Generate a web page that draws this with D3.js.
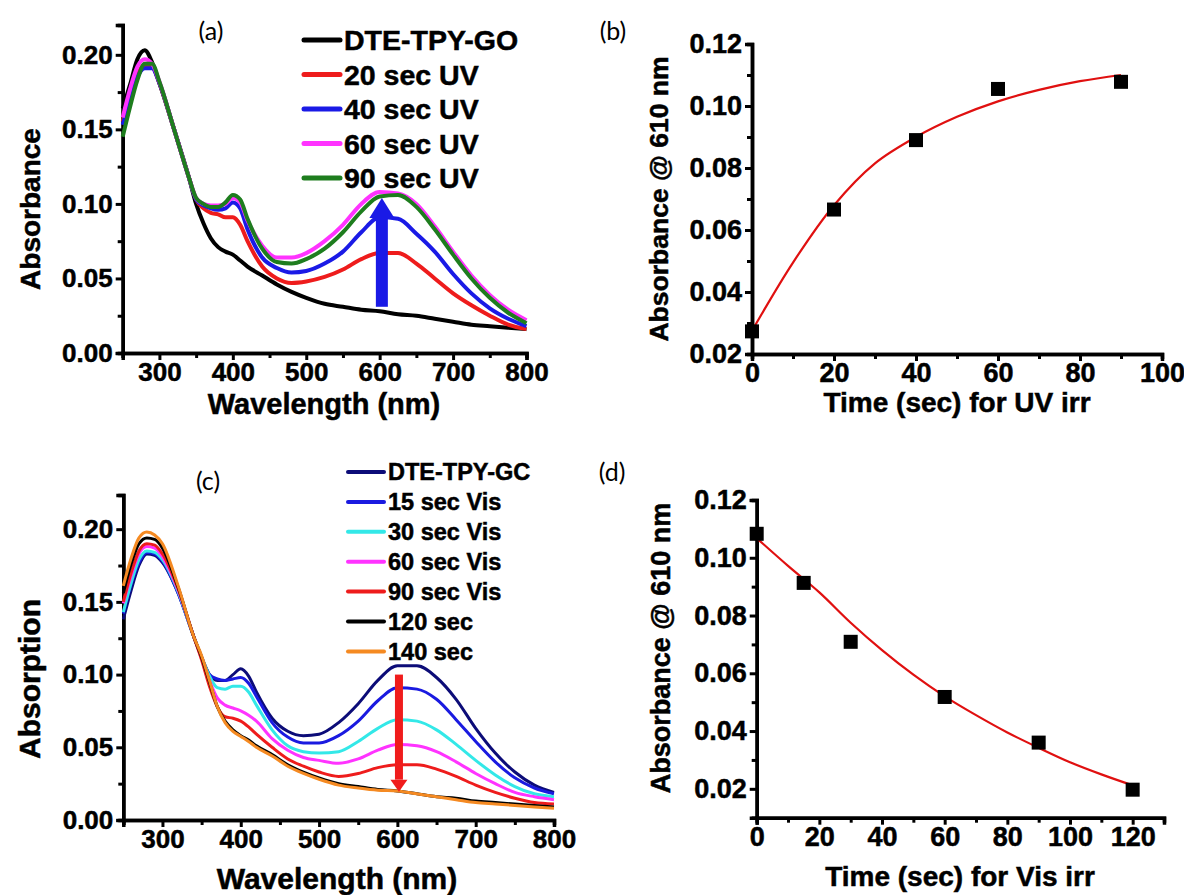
<!DOCTYPE html>
<html><head><meta charset="utf-8">
<script src="https://cdn.jsdelivr.net/npm/d3@7"></script>
<style>
html,body{margin:0;padding:0;background:#fff;}
svg{display:block;}
text{font-family:"Liberation Sans",Arial,sans-serif;font-weight:bold;fill:#000;}
.plab{font-family:Lato,"Open Sans",sans-serif;font-weight:normal;}
</style></head>
<body>
<svg id="fig" width="1184" height="895"></svg>
<script>
// ---------- Panel (a): UV irradiation spectra ----------
const wlA = [250,260,270,280,290,300,320,340,350,360,370,380,390,400,410,420,440,460,480,500,525,550,575,600,625,650,675,700,725,750,775,800];
const aBlack   = [.164,.180,.197,.203,.195,.181,.150,.118,.100,.087,.077,.071,.068,.066,.062,.058,.052,.046,.041,.037,.033,.031,.029,.028,.026,.025,.023,.021,.019,.018,.017,.016];
const aRed     = [.155,.172,.187,.193,.192,.181,.150,.118,.103,.097,.094,.093,.091,.091,.086,.075,.058,.050,.047,.048,.051,.056,.063,.067,.067,.060,.050,.040,.032,.025,.019,.016];
const aBlue    = [.153,.170,.185,.191,.191,.181,.150,.118,.103,.099,.097,.096,.097,.101,.097,.083,.064,.057,.054,.055,.060,.068,.081,.091,.090,.080,.068,.053,.040,.030,.023,.018];
const aMagenta = [.158,.177,.192,.197,.194,.182,.150,.118,.104,.100,.099,.099,.100,.104,.101,.089,.072,.064,.064,.067,.075,.086,.100,.108,.107,.100,.085,.068,.052,.039,.029,.022];
const aGreen   = [.145,.165,.183,.194,.194,.182,.150,.118,.104,.100,.098,.098,.101,.106,.103,.090,.070,.061,.060,.063,.070,.081,.095,.105,.106,.098,.083,.066,.050,.037,.027,.020];
const aLabels  = ["DTE-TPY-GO","20 sec UV","40 sec UV","60 sec UV","90 sec UV"];
const aColors  = ["#000000","#ee1c1c","#1a1ae6","#ff33ff","#1e7d1e"];

// ---------- Panel (c): visible irradiation spectra ----------
const wlC = [250,260,270,280,290,300,320,340,350,360,370,380,390,400,410,420,440,460,480,500,525,550,575,600,625,650,675,700,725,750,775,800];
const cNavy    = [.138,.158,.175,.183,.182,.177,.156,.126,.112,.100,.096,.096,.100,.104,.099,.088,.070,.061,.058,.059,.067,.080,.096,.106,.106,.098,.083,.063,.046,.033,.024,.019];
const cBlue    = [.142,.162,.177,.184,.183,.178,.156,.126,.112,.100,.097,.096,.097,.098,.094,.085,.067,.057,.053,.053,.058,.068,.082,.091,.090,.083,.069,.054,.040,.029,.022,.018];
const cCyan    = [.143,.163,.179,.185,.184,.179,.157,.126,.112,.099,.091,.090,.092,.092,.088,.079,.062,.051,.047,.046,.047,.054,.063,.069,.068,.062,.052,.041,.031,.023,.018,.016];
const cMagenta = [.149,.168,.183,.188,.187,.181,.158,.126,.111,.096,.084,.079,.077,.075,.072,.068,.056,.048,.043,.041,.039,.042,.048,.052,.051,.047,.040,.032,.025,.019,.016,.014];
const cRed     = [.150,.170,.185,.190,.189,.183,.159,.126,.110,.092,.078,.071,.070,.068,.064,.059,.050,.042,.037,.033,.030,.032,.036,.038,.038,.035,.030,.024,.019,.015,.012,.011];
const cBlack   = [.156,.176,.190,.194,.193,.187,.160,.126,.112,.095,.078,.068,.062,.058,.055,.051,.045,.038,.033,.029,.025,.023,.021,.020,.018,.016,.015,.013,.012,.011,.010,.009];
const cOrange  = [.161,.180,.194,.198,.196,.190,.161,.126,.113,.096,.078,.067,.061,.0575,.054,.050,.044,.037,.032,.028,.024,.022,.0205,.020,.018,.016,.014,.012,.011,.010,.009,.008];
const cLabels  = ["DTE-TPY-GC","15 sec Vis","30 sec Vis","60 sec Vis","90 sec Vis","120 sec","140 sec"];
const cColors  = ["#0c0c78","#1a1ae0","#33e8e8","#ff33ff","#ee1c1c","#000000","#f58a22"];

const wlTicks = [300,400,500,600,700,800];
const absTicks = [0.00,0.05,0.10,0.15,0.20];

// ---------- Panel (b): UV kinetics ----------
const bTime = [0,20,40,60,90];
const bAbs  = [0.0273,0.0666,0.089,0.1055,0.1078];
const bFitT = [0,10,20,30,40,50,60,70,80,90];
const bFitY = [0.0275,0.0495,0.0680,0.0815,0.0900,0.0965,0.1015,0.1052,0.1080,0.1100];
const bXTicks = [0,20,40,60,80,100];
const bYTicks = [0.02,0.04,0.06,0.08,0.10,0.12];

// ---------- Panel (d): Vis kinetics ----------
const dTime = [0,15,30,60,90,120];
const dAbs  = [0.1083,0.0913,0.0709,0.0518,0.036,0.0197];
const dFitT = [0,10,20,30,40,50,60,70,80,90,100,110,120];
const dFitY = [0.1068,0.0972,0.0880,0.0775,0.0680,0.0595,0.0520,0.0455,0.0395,0.0342,0.0292,0.0250,0.0212];
const dXTicks = [0,20,40,60,80,100,120];
const dYTicks = [0.02,0.04,0.06,0.08,0.10,0.12];

const svg = d3.select("#fig");

function drawAxes(g, x, y, xTicks, yTicks, xMinor, yMinor, fs, xPad) {
  const y0 = y.range()[0], x0 = x.range()[0];
  const gx = g.append("g").attr("transform", `translate(0,${y0})`)
    .call(d3.axisBottom(x).tickValues(xMinor).tickSize(5).tickFormat(""));
  const gxM = g.append("g").attr("transform", `translate(0,${y0})`)
    .call(d3.axisBottom(x).tickValues(xTicks).tickSize(7).tickPadding(xPad).tickFormat(d3.format("d")));
  const gy = g.append("g").attr("transform", `translate(${x0},0)`)
    .call(d3.axisLeft(y).tickValues(yMinor).tickSize(5).tickFormat(""));
  const gyM = g.append("g").attr("transform", `translate(${x0},0)`)
    .call(d3.axisLeft(y).tickValues(yTicks).tickSize(7).tickPadding(3).tickFormat(d3.format(".2f")));
  [gx,gxM,gy,gyM].forEach(a => {
    a.select(".domain").attr("stroke","#000").attr("stroke-width",3.5);
    a.selectAll(".tick line").attr("stroke","#000").attr("stroke-width",3);
    a.selectAll(".tick text").attr("font-size",fs).attr("font-family","Liberation Sans, Arial, sans-serif")
      .attr("font-weight","bold").attr("fill","#000").attr("stroke","#000").attr("stroke-width",0.5);
  });
}

function boldText(g, x, y, size, txt, anchor, rot) {
  const t = g.append("text").attr("font-size", size).attr("text-anchor", anchor || "start")
    .attr("stroke","#000").attr("stroke-width",0.5).text(txt);
  if (rot) t.attr("transform", `translate(${x},${y}) rotate(-90)`);
  else t.attr("x", x).attr("y", y);
  return t;
}

function spectrumPanel(o) {
  const g = svg.append("g");
  const x = d3.scaleLinear().domain([250,800]).range([o.x0,o.x1]);
  const y = d3.scaleLinear().domain([0,o.yMax]).range([o.y0,o.y1]);
  drawAxes(g, x, y, wlTicks, absTicks, [250,350,450,550,650,750], [0.025,0.075,0.125,0.175], 26, 3);
  const line = d3.line().x((d,i)=>x(o.wl[i])).y(d=>y(d)).curve(d3.curveMonotoneX);
  o.series.forEach((s,i)=>{
    g.append("path").attr("d", line(s)).attr("fill","none").attr("stroke",o.colors[i]).attr("stroke-width",o.lw).attr("stroke-linejoin","round");
  });
  // arrow
  const ax = x(o.arrow.wl), yA = y(o.arrow.from), yB = y(o.arrow.to);
  const dir = yB < yA ? -1 : 1;
  const headStart = yB - dir*o.arrow.head;
  g.append("rect").attr("x", ax - o.arrow.shaft/2).attr("width", o.arrow.shaft)
    .attr("y", Math.min(yA, headStart)).attr("height", Math.abs(headStart - yA)).attr("fill", o.arrow.color);
  g.append("path").attr("d", `M${ax - o.arrow.hw/2},${headStart} L${ax + o.arrow.hw/2},${headStart} L${ax},${yB} Z`).attr("fill", o.arrow.color);
  // legend
  o.labels.forEach((l,i)=>{
    const ly = o.leg.y + i*o.leg.dy;
    g.append("line").attr("x1",o.leg.x).attr("x2",o.leg.x+o.leg.len).attr("y1",ly).attr("y2",ly)
      .attr("stroke",o.colors[i]).attr("stroke-width",o.leg.lw).attr("stroke-linecap","round");
    boldText(g, o.leg.x+o.leg.len+4, ly, o.leg.fs, l).attr("dy","0.36em");
  });
  g.append("text").attr("class","plab").attr("x",o.tag.x).attr("y",o.tag.y).attr("font-size",25).attr("text-anchor","middle").text(o.tag.t);
  boldText(g, o.ylab.x, o.ylab.y, o.ylab.fs, o.ylab.t, "middle", true);
  boldText(g, o.xlab.x, o.xlab.y, o.xlab.fs, o.xlab.t, "middle");
}

function kineticsPanel(o) {
  const g = svg.append("g");
  const x = d3.scaleLinear().domain(o.xDom).range([o.x0,o.x1]);
  const y = d3.scaleLinear().domain(o.yDom).range([o.y0,o.y1]);
  drawAxes(g, x, y, o.xTicks, o.yTicks, o.xMinor, o.yMinor, 27, 2);
  const line = d3.line().x((d,i)=>x(o.fitT[i])).y(d=>y(d)).curve(d3.curveCatmullRom.alpha(0.5));
  g.append("path").attr("d", line(o.fitY)).attr("fill","none").attr("stroke","#e01010").attr("stroke-width",2.2);
  const s = 14;
  g.selectAll("rect.pt").data(o.ys).enter().append("rect").attr("class","pt")
    .attr("x",(d,i)=>x(o.xs[i])-s/2).attr("y",d=>y(d)-s/2).attr("width",s).attr("height",s).attr("fill","#000");
  g.append("text").attr("class","plab").attr("x",o.tag.x).attr("y",o.tag.y).attr("font-size",25).attr("text-anchor","middle").text(o.tag.t);
  boldText(g, o.ylab.x, o.ylab.y, o.ylab.fs, o.ylab.t, "middle", true);
  boldText(g, o.xlab.x, o.xlab.y, o.xlab.fs, o.xlab.t, "middle");
}

spectrumPanel({
  x0:122.7, x1:526.5, y0:353, y1:25, yMax:0.22, wl:wlA,
  series:[aBlack,aRed,aBlue,aMagenta,aGreen], colors:aColors, labels:aLabels, lw:4,
  arrow:{wl:603, from:0.031, to:0.104, shaft:12, hw:25, head:20, color:"#1a1ae6"},
  leg:{x:304, y:40, dy:34.5, len:36, lw:5, fs:28.5},
  tag:{x:211, y:40, t:"(a)"},
  ylab:{x:40, y:209, fs:28, t:"Absorbance"},
  xlab:{x:324, y:414, fs:29, t:"Wavelength (nm)"}
});

spectrumPanel({
  x0:123.3, x1:554, y0:820, y1:495, yMax:0.2235, wl:wlC,
  series:[cNavy,cBlue,cCyan,cMagenta,cRed,cBlack,cOrange], colors:cColors, labels:cLabels, lw:3,
  arrow:{wl:602, from:0.100, to:0.0195, shaft:8, hw:17, head:12, color:"#f01c1c"},
  leg:{x:348, y:472, dy:29.9, len:36, lw:4, fs:23.5},
  tag:{x:208, y:490, t:"(c)"},
  ylab:{x:40, y:679, fs:30, t:"Absorption"},
  xlab:{x:337, y:889, fs:30, t:"Wavelength (nm)"}
});

kineticsPanel({
  x0:752, x1:1162, y0:354, y1:44, xDom:[0,100], yDom:[0.02,0.12],
  xTicks:bXTicks, yTicks:bYTicks, xMinor:[10,30,50,70,90], yMinor:[0.03,0.05,0.07,0.09,0.11],
  xs:bTime, ys:bAbs, fitT:bFitT, fitY:bFitY,
  tag:{x:613, y:40, t:"(b)"},
  ylab:{x:668, y:199, fs:26.5, t:"Absorbance @ 610 nm"},
  xlab:{x:957, y:412, fs:28, t:"Time (sec) for UV irr"}
});

kineticsPanel({
  x0:756.7, x1:1164, y0:817.7, y1:500, xDom:[0,130], yDom:[0.01,0.12],
  xTicks:dXTicks, yTicks:dYTicks, xMinor:[10,30,50,70,90,110,130], yMinor:[0.03,0.05,0.07,0.09,0.11],
  xs:dTime, ys:dAbs, fitT:dFitT, fitY:dFitY,
  tag:{x:612, y:481, t:"(d)"},
  ylab:{x:670, y:648, fs:27, t:"Absorbance @ 610 nm"},
  xlab:{x:960, y:886, fs:28, t:"Time (sec) for Vis irr"}
});
</script>
</body></html>
